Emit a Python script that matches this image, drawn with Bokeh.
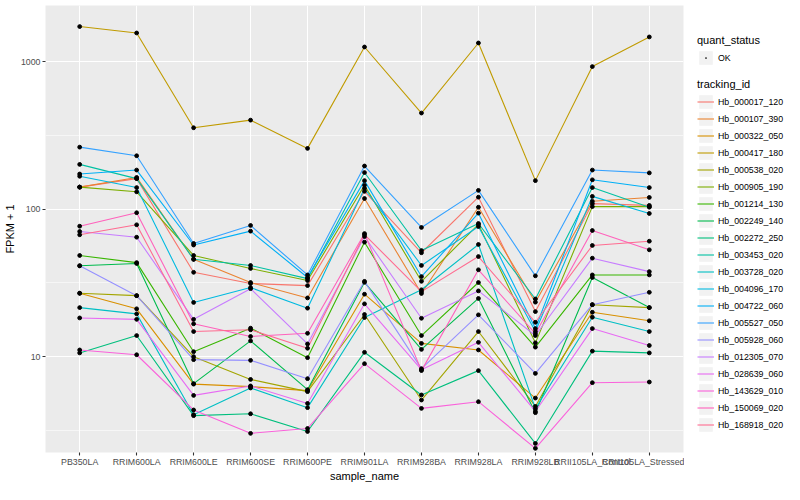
import numpy as np
from bokeh.plotting import figure
from bokeh.layouts import row
from bokeh.models import (FactorRange, Range1d, FixedTicker, PrintfTickFormatter,
                          Legend, LegendItem, ColumnDataSource)
from bokeh.embed import file_html
from bokeh.resources import INLINE

samples = ["PB350LA", "RRIM600LA", "RRIM600LE", "RRIM600SE", "RRIM600PE",
           "RRIM901LA", "RRIM928BA", "RRIM928LA", "RRIM928LB",
           "RRII105LA_Control", "RRII105LA_Stressed"]

tracking_ids = ["Hb_000017_120", "Hb_000107_390", "Hb_000322_050", "Hb_000417_180",
                "Hb_000538_020", "Hb_000905_190", "Hb_001214_130", "Hb_002249_140",
                "Hb_002272_250", "Hb_003453_020", "Hb_003728_020", "Hb_004096_170",
                "Hb_004722_060", "Hb_005527_050", "Hb_005928_060", "Hb_012305_070",
                "Hb_028639_060", "Hb_143629_010", "Hb_150069_020", "Hb_168918_020"]

colors = ["#F8766D", "#EA8331", "#D89000", "#C09B00", "#A3A500", "#7CAE00",
          "#39B600", "#00BB4E", "#00BF7D", "#00C1A3", "#00BFC4", "#00BAE0",
          "#00B0F6", "#35A2FF", "#9590FF", "#C77CFF", "#E76BF3", "#FA62DB",
          "#FF62BC", "#FF6C91"]

# FPKM + 1 per sample (same order as samples)
Hb_000017_120 = [141, 161, 37.3, 31.3, 30.3, 132, 50.6, 120.5, 20.2, 109, 106]
Hb_000107_390 = [141, 164, 45.7, 31.8, 25.0, 118, 26.8, 103, 23.4, 113, 120]
Hb_000322_050 = [26.9, 21.1, 6.51, 6.26, 5.88, 26.5, 12.3, 11.1, 5.24, 20.0, 17.5]
Hb_000417_180 = [1728, 1563, 356, 401, 258, 1256, 448, 1337, 156, 925, 1469]
Hb_000538_020 = [26.9, 25.9, 10.0, 7.01, 5.79, 19.3, 5.08, 14.8, 4.60, 22.5, 21.5]
Hb_000905_190 = [141, 131, 48.5, 39.6, 32.8, 145, 32.4, 78.7, 12.4, 104, 104]
Hb_001214_130 = [48.5, 43.4, 10.8, 15.6, 9.84, 59.7, 13.9, 31.8, 11.6, 35.8, 35.8]
Hb_002249_140 = [41.3, 42.8, 6.56, 12.8, 5.97, 31.9, 11.2, 24.8, 4.17, 34.4, 21.5]
Hb_002272_250 = [10.6, 13.9, 3.98, 4.10, 3.11, 10.7, 5.50, 8.04, 2.58, 10.9, 10.6]
Hb_003453_020 = [201, 161, 45.7, 41.5, 33.8, 177, 52.4, 79.9, 24.6, 140, 103]
Hb_003728_020 = [21.5, 19.5, 4.04, 6.13, 4.51, 18.4, 28.4, 57.6, 4.44, 18.5, 14.8]
Hb_004096_170 = [167, 140, 23.3, 29.4, 21.3, 138, 41.5, 76.2, 14.8, 122, 93.4]
Hb_004722_060 = [173, 184, 57.1, 70.9, 34.4, 156, 34.9, 93.9, 15.5, 158, 140]
Hb_005527_050 = [263, 230, 58.5, 77.5, 35.8, 196, 75.1, 134, 35.3, 184, 176]
Hb_005928_060 = [41.3, 25.9, 9.54, 9.44, 7.09, 32.4, 8.29, 19.2, 7.70, 22.5, 27.3]
Hb_012305_070 = [70.5, 64.5, 17.9, 28.9, 12.2, 65.2, 18.2, 27.9, 13.9, 46.5, 37.7]
Hb_028639_060 = [18.3, 17.9, 5.46, 6.33, 4.82, 22.8, 8.16, 12.5, 4.25, 15.5, 11.9]
Hb_143629_010 = [11.1, 10.3, 4.35, 3.02, 3.26, 8.96, 4.46, 4.95, 2.39, 6.66, 6.73]
Hb_150069_020 = [76.6, 94.5, 16.7, 13.7, 14.4, 68.3, 8.04, 38.8, 14.3, 71.6, 53.0]
Hb_168918_020 = [67.0, 78.3, 14.8, 15.2, 11.4, 67.2, 27.6, 47.7, 17.1, 56.7, 60.6]

series = [Hb_000017_120, Hb_000107_390, Hb_000322_050, Hb_000417_180, Hb_000538_020,
          Hb_000905_190, Hb_001214_130, Hb_002249_140, Hb_002272_250, Hb_003453_020,
          Hb_003728_020, Hb_004096_170, Hb_004722_060, Hb_005527_050, Hb_005928_060,
          Hb_012305_070, Hb_028639_060, Hb_143629_010, Hb_150069_020, Hb_168918_020]

quant_status = ["OK"]

y_limits = [2.24, 2400]   # visible FPKM + 1 range of the log axis

FONT = "Liberation Sans"

p = figure(width=684, height=484,
           x_range=FactorRange(factors=samples, range_padding=0.1,
                               range_padding_units="absolute"),
           y_range=Range1d(y_limits[0], y_limits[1]),
           y_axis_type="log", output_backend="svg", toolbar_location=None,
           min_border_left=37, min_border_right=1, min_border_top=5,
           min_border_bottom=20)

p.background_fill_color = "#EBEBEB"
p.border_fill_color = "white"
p.outline_line_color = None

ticker = FixedTicker(ticks=[10, 100, 1000], minor_ticks=[10 ** 0.5, 10 ** 1.5, 10 ** 2.5])
p.yaxis.ticker = ticker
p.ygrid.ticker = ticker
p.yaxis.formatter = PrintfTickFormatter(format="%d")

for g in (p.xgrid, p.ygrid):
    g.grid_line_color = "white"
    g.grid_line_width = 1.1
p.ygrid.minor_grid_line_color = "white"
p.ygrid.minor_grid_line_width = 0.55

for ax in (p.xaxis[0], p.yaxis[0]):
    ax.axis_line_color = None
    ax.major_tick_line_color = "#333333"
    ax.major_tick_line_width = 1.1
    ax.major_tick_out = 3
    ax.major_tick_in = 0
    ax.minor_tick_line_color = None
    ax.major_label_text_color = "#4D4D4D"
    ax.major_label_text_font = FONT
    ax.major_label_text_font_size = "8.8px"
    ax.major_label_text_line_height = 1.0
    ax.axis_label_text_font = FONT
    ax.axis_label_text_font_size = "11px"
    ax.axis_label_text_line_height = 1.0
    ax.axis_label_text_font_style = "normal"
    ax.axis_label_text_color = "black"
    ax.major_label_standoff = 1
    ax.axis_label_standoff = 0
p.yaxis.axis_label_standoff = 2
p.xaxis.axis_label = "sample_name"
p.yaxis.axis_label = "FPKM + 1"

line_renderers = []
for tid, vals, c in zip(tracking_ids, series, colors):
    r = p.line(x=samples, y=vals, line_color=c, line_width=1.1)
    line_renderers.append(r)

px, py, ps = [], [], []
for vals in series:
    px += samples
    py += list(vals)
    ps += [quant_status[0]] * len(samples)
pts = p.scatter(x="x", y="y", source=ColumnDataSource(dict(x=px, y=py, q=ps)),
                size=3.8, color="black", marker="circle")

# ---- legend panel (separate figure to the right) ----
lf = figure(width=100, height=484, x_range=Range1d(0, 1), y_range=Range1d(0, 1),
            output_backend="svg", toolbar_location=None,
            x_axis_location=None, y_axis_location=None,
            min_border=0, min_border_left=0, min_border_right=0,
            min_border_top=0, min_border_bottom=0)
lf.outline_line_color = None
lf.background_fill_color = "white"
lf.border_fill_color = "white"
lf.xgrid.visible = False
lf.ygrid.visible = False

# placeholder renderers (NaN data: nothing drawn) that only supply legend keys
nan = [float("nan")]
keybg = lf.rect(x=nan, y=nan, width=1, height=1, fill_color="#F2F2F2", line_color=None)
key_pt = lf.scatter(x=nan, y=nan, size=3.8, line_color="black", fill_color="black",
                    marker="dot")
key_lines = [lf.line(x=nan, y=nan, line_color=c, line_width=1.1) for c in colors]


def style_legend(lg):
    lg.padding = 0
    lg.margin = 0
    lg.border_line_alpha = 0
    lg.background_fill_alpha = 0
    lg.glyph_width = 17
    lg.glyph_height = 17
    lg.label_height = 17
    lg.spacing = 0
    lg.label_standoff = 4
    lg.label_text_font = FONT
    lg.label_text_font_size = "8.8px"
    lg.label_text_color = "black"
    lg.title_text_font = FONT
    lg.title_text_font_size = "11px"
    lg.title_text_font_style = "normal"
    lg.title_text_color = "black"
    lg.title_standoff = 3


leg1 = Legend(items=[LegendItem(label=quant_status[0], renderers=[keybg, key_pt])],
              title="quant_status", location=(13, 386))
style_legend(leg1)
leg2 = Legend(items=[LegendItem(label=t, renderers=[keybg, r])
                     for t, r in zip(tracking_ids, key_lines)],
              title="tracking_id", location=(13, 19))
style_legend(leg2)
lf.add_layout(leg1)
lf.add_layout(leg2)

layout = row(p, lf, spacing=0)
open("out.html", "w").write(file_html(layout, INLINE))
